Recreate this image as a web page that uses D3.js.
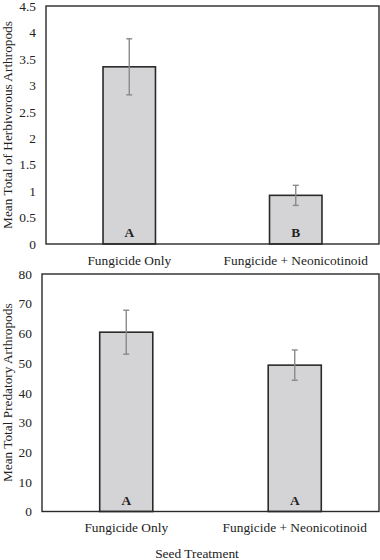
<!DOCTYPE html>
<html>
    <head>
        <meta charset="utf-8">
        <script src="https://d3js.org/d3.v7.min.js"></script>
        <title>Seed treatment arthropods</title>
        <style>
            body { margin: 0; background-color: #fff }
            svg text { font-family: "Liberation Serif", "Times New Roman", serif; fill: #222 }
        </style>
    </head>
    <body>
        <script>
            /* data */
            const treatments = ['Fungicide Only', 'Fungicide + Neonicotinoid']
            const herbMeans = [3.35, 0.92]
            const herbErr = [0.53, 0.19]
            const herbLetters = ['A', 'B']
            const herbTicks = [0, 0.5, 1, 1.5, 2, 2.5, 3, 3.5, 4, 4.5]

            const predMeans = [60.4, 49.3]
            const predErr = [7.4, 5.1]
            const predLetters = ['A', 'A']
            const predTicks = [0, 10, 20, 30, 40, 50, 60, 70, 80]

            const width = 380
            const height = 560

            const svg = d3.select('body')
                .append('svg')
                    .attr('width', width)
                    .attr('height', height)

            /* draws one panel */
            const panel = (opts) => {
                const { left, top, right, bottom, means, errs, letters, ticks, title } = opts
                const rows = treatments.map((t, i) => ({ t, m: means[i], e: errs[i], l: letters[i] }))

                const x = d3.scaleBand()
                    .domain(treatments)
                    .range([left, right])
                    .paddingInner(0.685)
                    .paddingOuter(0.3425)
                const y = d3.scaleLinear()
                    .domain([0, d3.max(ticks)])
                    .range([bottom, top])

                const g = svg.append('g')

                // y tick labels (no tick marks)
                g.append('g')
                    .attr('transform', `translate(${left},0)`)
                    .call(d3.axisLeft(y).tickValues(ticks).tickSize(0).tickPadding(10).tickFormat(d3.format('')))
                    .call(a => a.select('.domain').remove())
                    .selectAll('text')
                        .style('font-size', '13.4px')
                        .attr('fill', '#222')

                // x category labels
                g.append('g')
                    .attr('transform', `translate(0,${bottom})`)
                    .call(d3.axisBottom(x).tickSize(0).tickPadding(11))
                    .call(a => a.select('.domain').remove())
                    .selectAll('text')
                        .style('font-size', '13.4px')
                        .attr('fill', '#222')

                // bars
                g.selectAll('rect.bar')
                    .data(rows)
                    .join('rect')
                        .attr('class', 'bar')
                        .attr('x', d => x(d.t))
                        .attr('width', x.bandwidth())
                        .attr('y', d => y(d.m))
                        .attr('height', d => y(0) - y(d.m))
                        .attr('fill', '#d4d4d6')
                        .attr('stroke', '#2a2a2a')
                        .attr('stroke-width', 1.6)

                // error bars
                const cx = d => x(d.t) + x.bandwidth() / 2
                g.selectAll('line.err')
                    .data(rows)
                    .join('line')
                        .attr('class', 'err')
                        .attr('x1', cx).attr('x2', cx)
                        .attr('y1', d => y(d.m + d.e))
                        .attr('y2', d => y(d.m - d.e))
                        .attr('stroke', '#8a8a8a')
                        .attr('stroke-width', 1.4)
                g.selectAll('line.cap')
                    .data(rows.flatMap(d => [d.m + d.e, d.m - d.e].map(v => ({ ...d, v }))))
                    .join('line')
                        .attr('class', 'cap')
                        .attr('x1', d => cx(d) - 3).attr('x2', d => cx(d) + 3)
                        .attr('y1', d => y(d.v)).attr('y2', d => y(d.v))
                        .attr('stroke', '#8a8a8a')
                        .attr('stroke-width', 1.4)

                // letters
                g.selectAll('text.letter')
                    .data(rows)
                    .join('text')
                        .attr('class', 'letter')
                        .attr('x', cx)
                        .attr('y', bottom - 7)
                        .attr('text-anchor', 'middle')
                        .style('font-size', '13.4px')
                        .style('font-weight', 'bold')
                        .text(d => d.l)

                // plot frame
                g.append('rect')
                    .attr('x', left)
                    .attr('y', top)
                    .attr('width', right - left)
                    .attr('height', bottom - top)
                    .attr('fill', 'none')
                    .attr('stroke', '#2a2a2a')
                    .attr('stroke-width', 1.4)

                // y title
                g.append('text')
                    .attr('transform', `translate(12,${(top + bottom) / 2}) rotate(-90)`)
                    .attr('text-anchor', 'middle')
                    .style('font-size', '13.3px')
                    .text(title)
            }

            panel({ left: 46, top: 6, right: 379, bottom: 244,
                means: herbMeans, errs: herbErr, letters: herbLetters, ticks: herbTicks,
                title: 'Mean Total of Herbivorous Arthropods' })

            panel({ left: 42, top: 274, right: 379, bottom: 511.5,
                means: predMeans, errs: predErr, letters: predLetters, ticks: predTicks,
                title: 'Mean Total Predatory Arthropods' })

            svg.append('text')
                .attr('x', 197)
                .attr('y', 558)
                .attr('text-anchor', 'middle')
                .style('font-size', '13.4px')
                .text('Seed Treatment')
        </script>
    </body>
</html>
